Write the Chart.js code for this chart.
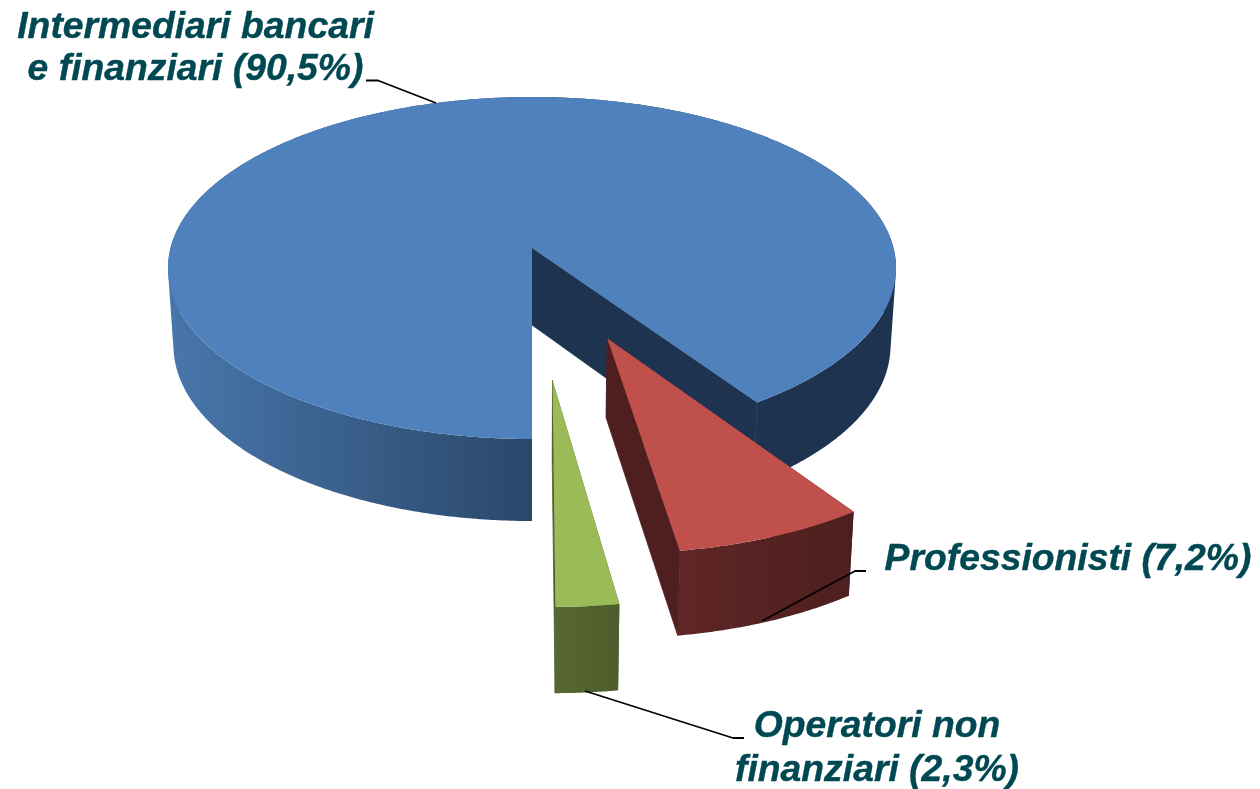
<!DOCTYPE html>
<html lang="it">

<head>
  <meta charset="UTF-8">
  <title>Segnalazioni per categoria</title>
  <script src="https://cdn.jsdelivr.net/npm/chart.js"></script>
  <style>
    html, body { margin: 0; padding: 0; background: #fff; }
    canvas { display: block; }
  </style>
</head>

<body>
  <canvas id="pie3d" width="1260" height="789"></canvas>

  <script>
    // Data
    const categories = ['Intermediari bancari e finanziari', 'Professionisti', 'Operatori non finanziari'];
    const shares = [90.5, 7.2, 2.3];
    const labelLines = [
      ['Intermediari bancari', 'e finanziari (90,5%)'],
      ['Professionisti (7,2%)'],
      ['Operatori non', 'finanziari (2,3%)']
    ];

    // Colours
    const topColors = ['#4f81bd', '#bf504c', '#9bbb59'];
    const wallFrom = ['#2a4769', '#5f2625', '#576731'];
    const wallTo = ['#4876ab', '#4c1f1e', '#4e5d2c'];
    const wallBack = '#1e3350';
    const faceColors = ['#1e3350', '#4e1f1e', '#4e5d2c'];

    // How far each slice is pulled out and its radius, as fractions of the disc radius
    const explode = [0, 0.54, 0.72];
    const sliceRadius = [1, 0.99, 0.985];

    // Perspective of the disc
    const rx = 361.5, ry = 168.7, persp = 0.117;
    const baseDrop = 77, baseScaleX = 0.985, baseScaleY = 1.026;

    const labelAnchors = [
      { x: 195.5, y: 38, lh: 42 },
      { x: 1068, y: 570, lh: 42 },
      { x: 877, y: 737, lh: 44 }
    ];
    const leaderLines = [
      [[366, 80.5], [378, 80.5], [436, 103]],
      [[866, 571], [855, 571], [762, 621]],
      [[744, 738], [733, 738], [585, 691]]
    ];

    // disc coords (unit radius, y towards the viewer) to screen
    function project(arc, X, Y) {
      const s = 1 / (1 - persp * Y);
      return [arc.x + rx * X * s, arc.y + ry * Y * s];
    }

    function toBase(arc, p) {
      return [arc.x + (p[0] - arc.x) * baseScaleX, arc.y + baseDrop + (p[1] - arc.y) * baseScaleY];
    }

    function fillPoly(ctx, pts, color) {
      ctx.beginPath();
      pts.forEach((p, i) => (i ? ctx.lineTo(p[0], p[1]) : ctx.moveTo(p[0], p[1])));
      ctx.closePath();
      ctx.fillStyle = color;
      ctx.fill();
    }

    // all the wall quads go in one path so there are no seams between them
    function fillWall(ctx, arc, pts, color) {
      ctx.beginPath();
      for (let k = 0; k < pts.length - 1; k++) {
        const quad = [pts[k], pts[k + 1], toBase(arc, pts[k + 1]), toBase(arc, pts[k])];
        let area = 0;
        quad.forEach((p, n) => {
          const q = quad[(n + 1) % 4];
          area += p[0] * q[1] - q[0] * p[1];
        });
        if (area < 0) quad.reverse();
        quad.forEach((p, n) => (n ? ctx.lineTo(p[0], p[1]) : ctx.moveTo(p[0], p[1])));
        ctx.closePath();
      }
      ctx.fillStyle = color;
      ctx.fill();
    }

    function hGradient(ctx, x0, x1, c0, c1) {
      const g = ctx.createLinearGradient(x0, 0, x1, 0);
      g.addColorStop(0, c0);
      g.addColorStop(1, c1);
      return g;
    }

    function drawSlice(ctx, arc, i) {
      const mid = (arc.startAngle + arc.endAngle) / 2;
      const r = sliceRadius[i];
      const ox = Math.cos(mid) * explode[i], oy = Math.sin(mid) * explode[i];
      const rim = [];
      const steps = Math.ceil((arc.endAngle - arc.startAngle) / 0.005);
      for (let k = 0; k <= steps; k++) {
        const a = arc.startAngle + (arc.endAngle - arc.startAngle) * k / steps;
        rim.push({ a, p: project(arc, ox + r * Math.cos(a), oy + r * Math.sin(a)) });
      }
      const apex = project(arc, ox, oy);
      const first = rim[0].p, last = rim[rim.length - 1].p;

      // the start cut faces away from the viewer, so it goes behind the wall
      fillPoly(ctx, [apex, first, toBase(arc, first), toBase(arc, apex)], faceColors[i]);

      // outer wall, the big slice is lit on the left and flat dark on the right
      if (i === 0) {
        const left = rim.filter(v => v.a <= 1.5 * Math.PI).map(v => v.p);
        const right = rim.filter(v => v.a >= 1.5 * Math.PI).map(v => v.p);
        fillWall(ctx, arc, right, wallBack);
        fillWall(ctx, arc, left, hGradient(ctx, first[0], arc.x - rx, wallFrom[0], wallTo[0]));
      } else {
        const xs = rim.map(v => v.p[0]);
        const grad = hGradient(ctx, xs[steps], xs[0], wallFrom[i], wallTo[i]);
        fillWall(ctx, arc, rim.map(v => v.p), grad);
      }

      // end cut, stroked so no seam shows against the wall
      fillPoly(ctx, [apex, last, toBase(arc, last), toBase(arc, apex)], faceColors[i]);
      ctx.strokeStyle = faceColors[i];
      ctx.lineWidth = 0.8;
      ctx.stroke();

      // top
      fillPoly(ctx, [apex].concat(rim.map(v => v.p)), arc.options.backgroundColor);
    }

    const pie3dPlugin = {
      id: 'pie3d',
      beforeDatasetsDraw(chart) {
        const ctx = chart.ctx;
        const arcs = chart.getDatasetMeta(0).data;
        ctx.save();
        ctx.lineJoin = 'round';
        arcs.forEach((arc, i) => drawSlice(ctx, arc, i));

        leaderLines.forEach(line => {
          ctx.beginPath();
          line.forEach((p, k) => (k ? ctx.lineTo(p[0], p[1]) : ctx.moveTo(p[0], p[1])));
          ctx.strokeStyle = '#000';
          ctx.lineWidth = 1.8;
          ctx.stroke();
        });

        ctx.font = 'italic bold 37.3px "Liberation Sans"';
        ctx.fillStyle = '#004852';
        ctx.strokeStyle = '#004852';
        ctx.lineWidth = 0.4;
        ctx.textAlign = 'center';
        ctx.textBaseline = 'alphabetic';
        labelLines.forEach((lines, i) => {
          lines.forEach((txt, k) => {
            const y = labelAnchors[i].y + k * labelAnchors[i].lh;
            ctx.fillText(txt, labelAnchors[i].x, y);
            ctx.strokeText(txt, labelAnchors[i].x, y);
          });
        });
        ctx.restore();
        return false;
      }
    };

    new Chart(document.getElementById('pie3d'), {
      type: 'pie',
      data: {
        labels: categories,
        datasets: [{ data: shares, backgroundColor: topColors, borderWidth: 0 }]
      },
      options: {
        responsive: false,
        animation: false,
        rotation: 180,
        events: [],
        layout: { padding: { right: 196, bottom: 293 } },
        plugins: { legend: { display: false }, tooltip: { enabled: false } }
      },
      plugins: [pie3dPlugin]
    });
  </script>
</body>

</html>
